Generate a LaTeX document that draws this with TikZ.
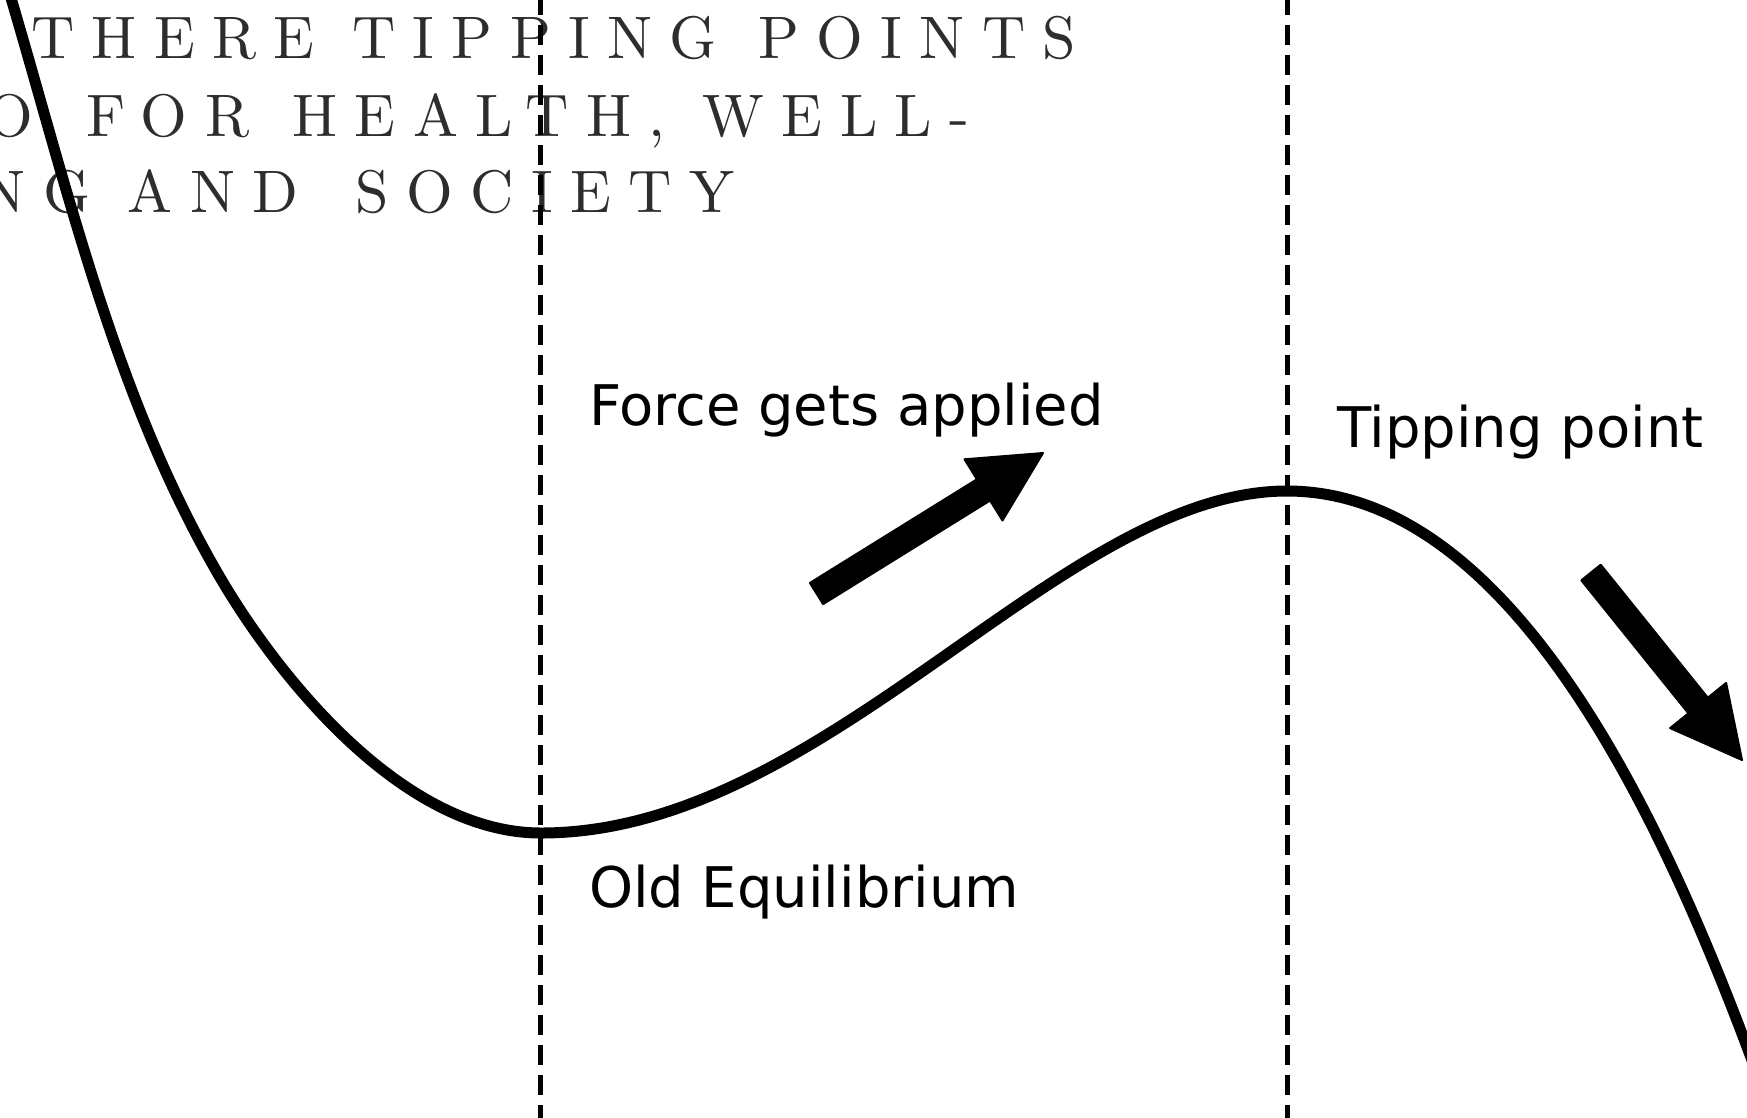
\documentclass[tikz,border=0pt]{standalone}
\usepackage{fontspec}
\newfontfamily\labfont{DejaVu Sans}
\newfontfamily\ttlfont{lmroman10-regular.otf}[LetterSpace=29]
\definecolor{titlegray}{RGB}{45,45,45}
\tikzset{
  curveline/.style={line width=11pt, line cap=round, line join=round},
  guide/.style={line width=5pt, dash pattern=on 20pt off 10pt},
  lbl/.style={font=\labfont\fontsize{56}{67}\selectfont, inner sep=0pt, outer sep=0pt, anchor=base west},
  titletext/.style={font=\ttlfont\fontsize{60}{72}\selectfont, text=titlegray, inner sep=0pt, outer sep=0pt, anchor=base west},
  blockarrow/.style={fill=black, draw=black, line width=2pt, line join=round},
}
\begin{document}
\begin{tikzpicture}[x=1pt,y=-1pt]
\useasboundingbox (0,0) rectangle (1747,1117);
\clip (0,0) rectangle (1747,1117);
% title
\node[titletext] (title1) at (31,58) {THERE TIPPING\hspace{4pt} POINTS};
\node[titletext] (title2) at (-13,136) {O\hspace{15pt} FOR\hspace{6pt} HEALTH, WELL-};
\node[titletext] (title3) at (-19,212) {NG AND\hspace{20pt} SOCIETY};
% guides
\coordinate (g1top) at (540,-5);
\coordinate (g1bot) at (540,1125);
\coordinate (g2top) at (1287,-5);
\coordinate (g2bot) at (1287,1125);
\draw[guide] (g1top) -- (g1bot);
\draw[guide] (g2top) -- (g2bot);
% curve
\coordinate (cstart) at (8,-12);
\coordinate (cmid) at (221,579);
\coordinate (cmin) at (541,833);
\coordinate (cmax) at (1287,491);
\coordinate (cend) at (1760,1082);
\draw[curveline] (cstart) .. controls (68,189) and (114.5,398) .. (cmid)
  .. controls (277,674) and (401,833) .. (cmin)
  .. controls (826.5,833) and (1059.8,491) .. (cmax)
  .. controls (1517,491) and (1669.1,833.2) .. (cend);
% arrows
\filldraw[blockarrow] (809.9,582.9) -- (976.9,479.3) -- (964.5,459.3) -- (1043,453)
  -- (1002.5,520.5) -- (990.1,500.5) -- (823.1,604.1) -- cycle;
\filldraw[blockarrow] (1600.7,564.7) -- (1707.8,697.7) -- (1726.1,682.9) -- (1742,760)
  -- (1670.1,728.1) -- (1688.4,713.3) -- (1581.3,580.3) -- cycle;
% labels
\node[lbl] (force) at (589,425) {Force gets applied};
\node[lbl] (tip) at (1337,447) {Tipping point};
\node[lbl] (oldeq) at (589,907) {Old Equilibrium};
\end{tikzpicture}
\end{document}
